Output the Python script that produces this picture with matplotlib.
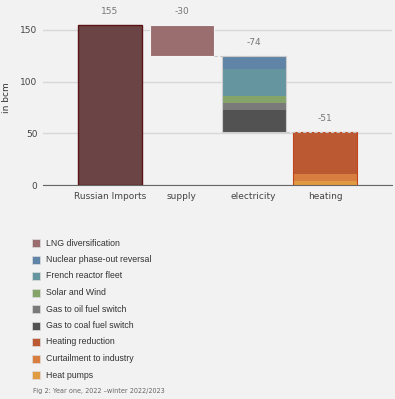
import matplotlib
matplotlib.use("Agg")
import matplotlib.pyplot as plt
from matplotlib.patches import Rectangle

# categories of the waterfall
categories = ["Russian Imports", "supply", "electricity", "heating"]
totals = [155, -30, -74, -51]

# components, top to bottom inside each bar
segment_names = ["LNG diversification", "Nuclear phase-out reversal", "French reactor fleet",
                 "Solar and Wind", "Gas to oil fuel switch", "Gas to coal fuel switch",
                 "Heating reduction", "Curtailment to industry", "Heat pumps"]
segment_cat = ["supply", "electricity", "electricity", "electricity", "electricity",
               "electricity", "heating", "heating", "heating"]
segment_vals = [30, 13, 26, 7, 6, 22, 40, 7, 4]
segment_colors = ["#9a6e6e", "#5f84a5", "#6596a0", "#84a46a", "#7a7a7a", "#525252",
                  "#bb5933", "#d77e40", "#e09a42"]

base_color = "#6b4545"
edge_colors = ["#5a1414", "#f4f4f4", "#cccccc", "#c2461a"]

bg = "#f2f2f2"
fig = plt.figure(figsize=(3.95, 3.99), dpi=100, facecolor=bg)
ax = fig.add_axes([0.109, 0.536, 0.884, 0.464], facecolor=bg)

width = 0.89
level = 0
prev_right = None
for i, (cat, tot) in enumerate(zip(categories, totals)):
    if i == 0:
        ax.bar(i, tot, width=width, color=base_color, edgecolor=edge_colors[i], linewidth=1, zorder=3)
        top = tot
        level = tot
    else:
        top = level
        y = level
        for name, c, v, col in zip(segment_names, segment_cat, segment_vals, segment_colors):
            if c != cat:
                continue
            ax.bar(i, -v, bottom=y, width=width, color=col, linewidth=0, zorder=3)
            y -= v
        level = level + tot
        ax.add_patch(Rectangle((i - width / 2, level), width, -tot, fill=False,
                               edgecolor=edge_colors[i], linewidth=0.8, zorder=4))
        # dashed connector from previous bar (not after the first bar)
        if i > 1:
            ax.plot([prev_right, i + width / 2], [top, top], ls=(0, (3, 2)), color="#c8c8c8",
                    lw=0.8, zorder=5)
    prev_right = i + width / 2
    ax.text(i, top + 13, str(tot), ha="center", va="center", fontsize=6.5, color="#777777")

ax.set_xlim(-0.93, 3.93)
ax.set_ylim(0, 179)
ax.set_yticks([0, 50, 100, 150])
ax.set_xticks(range(len(categories)))
ax.set_xticklabels(categories)
ax.tick_params(length=0, labelsize=6.5, colors="#444444", pad=5)
ax.tick_params(axis="y", pad=4)
ax.grid(axis="y", color="#d8d8d8", lw=1, zorder=0)
for s in ["top", "right", "left"]:
    ax.spines[s].set_visible(False)
ax.spines["bottom"].set_color("#666666")
ax.set_ylabel("in bcm", fontsize=6.5, color="#333333")
ax.yaxis.set_label_coords(-0.092, 0.47)

# legend
row_y = 243
for name, col in zip(segment_names, segment_colors):
    fig.patches.append(Rectangle((32 / 395, 1 - (row_y + 4) / 399), 8 / 395, 8 / 399,
                                 transform=fig.transFigure, facecolor=col,
                                 edgecolor="#dddddd", linewidth=0.5))
    fig.text(46 / 395, 1 - row_y / 399, name, fontsize=6.3, color="#333333",
             family="Liberation Sans", ha="left", va="center")
    row_y += 16.5

fig.text(33 / 395, 1 - 391 / 399, "Fig 2: Year one, 2022 \u2013winter 2022/2023",
         fontsize=4.7, color="#666666", ha="left", va="center")

fig.savefig("out.png", dpi=100, facecolor=bg)
